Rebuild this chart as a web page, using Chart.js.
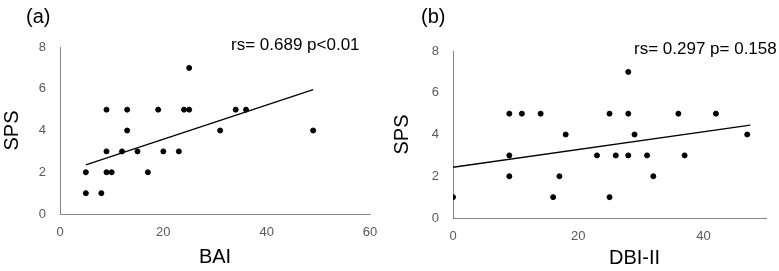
<!DOCTYPE html>
<html>
<head>
<meta charset="utf-8">
<script src="https://cdn.jsdelivr.net/npm/chart.js@4.4.0/dist/chart.umd.min.js"></script>
<style>
  body { margin: 0; background: #fff; }
  #wrap { position: relative; width: 779px; height: 271px; overflow: hidden; font-family: "Liberation Sans", Arial, sans-serif; }
  canvas { position: absolute; top: 0; }
  .txt { position: absolute; line-height: 1; white-space: nowrap; color: #000; }
</style>
</head>
<body>
<div id="wrap">
  <canvas id="chartA" width="390" height="271" style="left:0"></canvas>
  <canvas id="chartB" width="389" height="271" style="left:390px"></canvas>
  <div class="txt" style="left:26px; top:6px; font-size:20px;">(a)</div>
  <div class="txt" style="left:421px; top:6px; font-size:20px;">(b)</div>
  <div class="txt" style="left:231px; top:36px; font-size:17px;">rs= 0.689 p&lt;0.01</div>
  <div class="txt" style="left:634px; top:40px; font-size:17px;">rs= 0.297 p= 0.158</div>
  <div class="txt" style="left:609px; top:247px; font-size:20px;">DBI-II</div>
</div>
<script>
// (a) BAI vs SPS
const baiX = [5, 5, 8, 9, 10, 9, 9, 12, 13, 13, 15, 17, 19, 20, 23, 24, 25, 25, 31, 34, 36, 49];
const baiY = [2, 1, 1, 2, 2, 3, 5, 3, 4, 5, 3, 2, 5, 3, 3, 5, 5, 7, 4, 5, 5, 4];
const baiTrendX = [5, 49];
const baiTrendY = [2.35, 5.96];

// (b) DBI-II vs SPS
const dbiX = [0, 9, 9, 9, 11, 14, 16, 17, 18, 23, 25, 25, 26, 28, 28, 28, 29, 31, 32, 36, 37, 42, 47];
const dbiY = [1, 2, 3, 5, 5, 5, 1, 2, 4, 3, 1, 5, 3, 7, 5, 3, 4, 3, 2, 5, 3, 5, 4];
const dbiTrendX = [0, 47.5];
const dbiTrendY = [2.43, 4.45];

// tick labels
const baiTicks = [0, 20, 40, 60];
const dbiTicks = [0, 20, 40];
const spsTicks = [0, 2, 4, 6, 8];

const axisColor = "#868686";
const tickColor = "#595959";

function toPoints(xs, ys) {
    return xs.map((x, i) => ({ x: x, y: ys[i] }));
}

// * area = pixel box of the plot inside the canvas
function makeChart(id, xs, ys, tx, ty, xMax, xTicks, xTitle, area) {
    const ctx = document.getElementById(id).getContext("2d");
    return new Chart(ctx, {
        type: "scatter",
        data: {
            datasets: [
                {
                    data: toPoints(xs, ys),
                    backgroundColor: "#000",
                    borderColor: "#000",
                    pointRadius: 2.5,
                    pointHoverRadius: 2.5,
                },
                {
                    type: "line",
                    data: toPoints(tx, ty),
                    borderColor: "#000",
                    borderWidth: 1.3,
                    pointRadius: 0,
                    fill: false,
                    showLine: true,
                },
            ],
        },
        options: {
            responsive: false,
            animation: false,
            layout: { padding: { left: 0, top: area.top, right: area.right, bottom: 0 } },
            plugins: { legend: { display: false }, tooltip: { enabled: false } },
            scales: {
                x: {
                    type: "linear",
                    min: 0,
                    max: xMax,
                    afterBuildTicks: (s) => { s.ticks = xTicks.map((v) => ({ value: v })); },
                    afterFit: (s) => { s.height = area.xh; },
                    grid: { drawOnChartArea: false, drawTicks: false },
                    border: { color: axisColor, width: 1 },
                    ticks: { color: tickColor, font: { family: "Liberation Sans", size: 13 }, padding: 11, maxRotation: 0 },
                    title: {
                        display: xTitle !== "",
                        text: xTitle,
                        color: "#000",
                        font: { family: "Liberation Sans", size: 20 },
                        padding: { top: 0, bottom: 2 },
                    },
                },
                y: {
                    min: 0,
                    max: 8,
                    afterBuildTicks: (s) => { s.ticks = spsTicks.map((v) => ({ value: v })); },
                    afterFit: (s) => { s.width = area.left; },
                    grid: { drawOnChartArea: false, drawTicks: false },
                    border: { color: axisColor, width: 1 },
                    ticks: { color: tickColor, font: { family: "Liberation Sans", size: 13 }, padding: 14 },
                    title: {
                        display: true,
                        text: "SPS",
                        color: "#000",
                        font: { family: "Liberation Sans", size: 20 },
                        padding: { top: 0, bottom: 0 },
                    },
                },
            },
        },
    });
}

makeChart("chartA", baiX, baiY, baiTrendX, baiTrendY, 60, baiTicks, "BAI",
    { left: 60, top: 47, right: 20, xh: 57 });
makeChart("chartB", dbiX, dbiY, dbiTrendX, dbiTrendY, 50, dbiTicks, "",
    { left: 63, top: 51, right: 13, xh: 53 });
</script>
</body>
</html>
